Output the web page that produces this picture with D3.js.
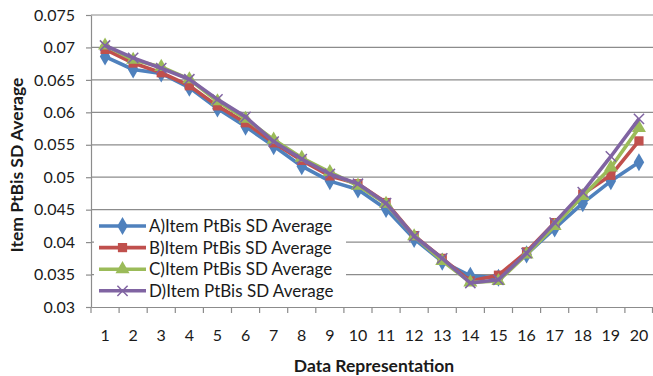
<!DOCTYPE html>
<html>
<head>
<meta charset="utf-8">
<script src="https://cdn.jsdelivr.net/npm/d3@7"></script>
<style>
  html, body { margin: 0; padding: 0; background: #fff; }
  svg { display: block; font-family: Lato, "Open Sans", sans-serif; }
</style>
</head>
<body>
<svg id="chart" width="653" height="376"></svg>
<script>
// Item point-biserial SD averages for each data representation
const categories = d3.range(1, 21).map(String);
const seriesNames = [
  "A)Item PtBis SD Average",
  "B)Item PtBis SD Average",
  "C)Item PtBis SD Average",
  "D)Item PtBis SD Average"
];
const seriesA = [0.0686, 0.0666, 0.0660, 0.0638, 0.0606, 0.0578, 0.0548, 0.0517, 0.0494, 0.0481, 0.0451, 0.0405, 0.0370, 0.0348, 0.0345, 0.0381, 0.0421, 0.0460, 0.0494, 0.0523];
const seriesB = [0.0697, 0.0676, 0.0661, 0.0641, 0.0610, 0.0584, 0.0553, 0.0526, 0.0502, 0.0490, 0.0461, 0.0410, 0.0375, 0.0340, 0.0349, 0.0385, 0.0430, 0.0474, 0.0503, 0.0556];
const seriesC = [0.0703, 0.0681, 0.0670, 0.0651, 0.0617, 0.0590, 0.0558, 0.0530, 0.0508, 0.0487, 0.0459, 0.0409, 0.0371, 0.0338, 0.0340, 0.0381, 0.0425, 0.0471, 0.0515, 0.0576];
const seriesD = [0.0703, 0.0684, 0.0668, 0.0651, 0.0620, 0.0593, 0.0555, 0.0528, 0.0505, 0.0490, 0.0460, 0.0409, 0.0375, 0.0337, 0.0342, 0.0383, 0.0430, 0.0477, 0.0532, 0.0590];
const yTicks = [0.03, 0.035, 0.04, 0.045, 0.05, 0.055, 0.06, 0.065, 0.07, 0.075];

const colors = ["#4F81BD", "#C0504D", "#9BBB59", "#8064A2"];
const symbols = [d3.symbolDiamond, d3.symbolSquare, d3.symbolTriangle, d3.symbolX];
const symbolSizes = [95, 85, 85, 70];
const allSeries = [seriesA, seriesB, seriesC, seriesD];

const svg = d3.select("#chart");
const plot = { left: 91, right: 653, top: 15, bottom: 307 };

const x = d3.scaleBand().domain(categories).range([plot.left, plot.right]).padding(0);
const y = d3.scaleLinear().domain([0.03, 0.075]).range([plot.bottom, plot.top]);
const cx = c => x(c) + x.bandwidth() / 2;

// horizontal gridlines
svg.append("g")
  .selectAll("line")
  .data(yTicks.slice(1))
  .join("line")
  .attr("x1", plot.left).attr("x2", plot.right)
  .attr("y1", d => y(d)).attr("y2", d => y(d))
  .attr("stroke", "#8c8c8c").attr("stroke-width", 1.2);

// y axis
const yAxis = svg.append("g")
  .attr("transform", `translate(${plot.left},0)`)
  .call(d3.axisLeft(y).tickValues(yTicks).tickSize(5).tickSizeOuter(0).tickPadding(11)
    .tickFormat(d => String(+d.toFixed(3))));
yAxis.select(".domain").attr("stroke", "#8c8c8c").attr("stroke-width", 1.2);
yAxis.selectAll(".tick line").attr("stroke", "#8c8c8c").attr("stroke-width", 1.2);
yAxis.selectAll("text").attr("font-size", 16).attr("fill", "#1a1a1a").attr("font-family", "Lato, sans-serif");

// x axis: labels at band centres, ticks on band boundaries
const xAxis = svg.append("g")
  .attr("transform", `translate(0,${plot.bottom})`)
  .call(d3.axisBottom(x).tickSize(0).tickPadding(23));
xAxis.select(".domain").attr("stroke", "#8c8c8c").attr("stroke-width", 1.2);
xAxis.selectAll("text").attr("font-size", 16).attr("fill", "#1a1a1a").attr("font-family", "Lato, sans-serif");
svg.append("g")
  .selectAll("line")
  .data(categories.concat(["end"]))
  .join("line")
  .attr("x1", d => d === "end" ? plot.right - 0.5 : x(d))
  .attr("x2", d => d === "end" ? plot.right - 0.5 : x(d))
  .attr("y1", plot.bottom).attr("y2", plot.bottom + 6)
  .attr("stroke", "#8c8c8c").attr("stroke-width", 1.2);

// axis titles
svg.append("text")
  .attr("x", (plot.left + plot.right) / 2 + 2).attr("y", 372)
  .attr("text-anchor", "middle")
  .attr("font-size", 17.5).attr("font-weight", "bold").attr("fill", "#1a1a1a")
  .text("Data Representation");
svg.append("text")
  .attr("transform", `translate(23,${(plot.top + plot.bottom) / 2 + 4}) rotate(-90)`)
  .attr("text-anchor", "middle")
  .attr("font-size", 17.5).attr("font-weight", "bold").attr("fill", "#1a1a1a")
  .text("Item PtBis SD Average");

// series lines and markers
const line = d3.line().x((d, i) => cx(categories[i])).y(d => y(d));
allSeries.forEach((vals, s) => {
  const g = svg.append("g");
  g.append("path")
    .datum(vals)
    .attr("d", line)
    .attr("fill", "none")
    .attr("stroke", colors[s])
    .attr("stroke-width", 3.6)
    .attr("stroke-linejoin", "round");
  g.selectAll("path.m")
    .data(vals)
    .join("path")
    .attr("class", "m")
    .attr("transform", (d, i) => `translate(${cx(categories[i])},${y(d)})`)
    .attr("d", d3.symbol(symbols[s], symbolSizes[s]))
    .attr("fill", s === 3 ? "none" : colors[s])
    .attr("stroke", colors[s])
    .attr("stroke-width", s === 3 ? 1.5 : 0);
});

// legend
const legend = svg.append("g");
legend.append("rect")
  .attr("x", 94).attr("y", 214).attr("width", 252).attr("height", 88)
  .attr("fill", "#fff");
seriesNames.forEach((name, s) => {
  const ly = 226 + s * 21.6;
  legend.append("line")
    .attr("x1", 99).attr("x2", 146).attr("y1", ly).attr("y2", ly)
    .attr("stroke", colors[s]).attr("stroke-width", 3.6);
  legend.append("path")
    .attr("transform", `translate(122.5,${ly})`)
    .attr("d", d3.symbol(symbols[s], symbolSizes[s]))
    .attr("fill", s === 3 ? "none" : colors[s])
    .attr("stroke", colors[s])
    .attr("stroke-width", s === 3 ? 1.5 : 0);
  legend.append("text")
    .attr("x", 149).attr("y", ly + 6)
    .attr("font-size", 17).attr("fill", "#1a1a1a")
    .text(name);
});
</script>
</body>
</html>
